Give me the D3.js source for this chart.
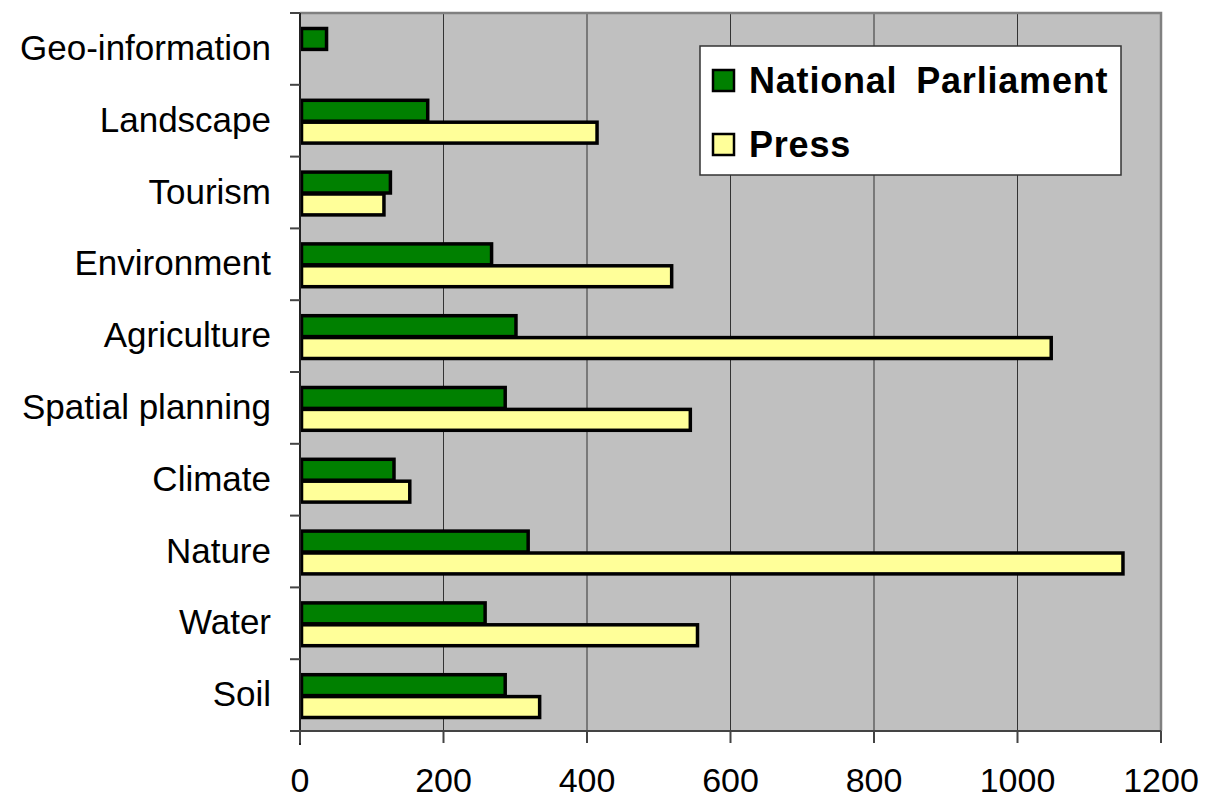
<!DOCTYPE html>
<html lang="en">
<head>
<meta charset="utf-8">
<title>topics</title>
<script src="https://d3js.org/d3.v7.min.js"></script>
<style>
  body { margin: 0; background: #fff; }
  text { font-family: Arial, "Liberation Sans", sans-serif; }
</style>
</head>
<body>
<svg width="1205" height="799"></svg>
<script>
// data, top to bottom
var topics = ["Geo-information", "Landscape", "Tourism", "Environment", "Agriculture",
              "Spatial planning", "Climate", "Nature", "Water", "Soil"];
var parliament = [37, 178, 126, 267, 301, 286, 131, 318, 258, 286];
var press = [0, 414, 117, 518, 1047, 544, 153, 1147, 554, 334];
var seriesNames = ["National Parliament", "Press"];
var seriesColors = ["#008000", "#ffff99"];
var xTicks = [0, 200, 400, 600, 800, 1000, 1200];

var svg = d3.select("svg");
var pLeft = 300, pRight = 1161, pTop = 13, pBottom = 731;

var x = d3.scaleLinear().domain([0, 1200]).range([pLeft, pRight]);
var y = d3.scaleBand().domain(topics).range([pTop, pBottom]).paddingInner(0.39).paddingOuter(0.195);
var sub = d3.scaleBand().domain([0, 1]).range([0, y.bandwidth()]);

// plot background
svg.append("rect").attr("x", pLeft).attr("y", pTop)
  .attr("width", pRight - pLeft).attr("height", pBottom - pTop)
  .attr("fill", "#c0c0c0");

// vertical grid
svg.append("g").selectAll("line")
  .data(xTicks.slice(1))
  .enter().append("line")
  .attr("x1", d => x(d)).attr("x2", d => x(d))
  .attr("y1", pTop).attr("y2", pBottom)
  .attr("stroke", "#333").attr("stroke-width", 1);

// frame top/right
svg.append("path")
  .attr("d", `M${pLeft},${pTop}H${pRight}V${pBottom}`)
  .attr("fill", "none").attr("stroke", "#808080").attr("stroke-width", 2.5);

// bars
var rows = topics.map((t, i) => ({t: t, v: [parliament[i], press[i]]}));
var grp = svg.append("g").selectAll("g")
  .data(rows).enter().append("g")
  .attr("transform", d => `translate(0,${y(d.t)})`);
grp.selectAll("rect")
  .data(d => d.v.map((v, k) => ({v: v, k: k})).filter(e => e.v > 0))
  .enter().append("rect")
  .attr("x", x(0) + 1.5)
  .attr("y", d => sub(d.k) + 1.5)
  .attr("width", d => x(d.v) - x(0) - 1.5)
  .attr("height", sub.bandwidth() - 1)
  .attr("fill", d => seriesColors[d.k])
  .attr("stroke", "#000").attr("stroke-width", 3.5);

// left axis
svg.append("line").attr("x1", pLeft).attr("x2", pLeft).attr("y1", pTop).attr("y2", pBottom + 14)
  .attr("stroke", "#222").attr("stroke-width", 2);
var edges = d3.range(topics.length + 1).map(i => pTop + i * (pBottom - pTop) / topics.length);
svg.append("g").selectAll("line").data(edges).enter().append("line")
  .attr("x1", pLeft - 10).attr("x2", pLeft)
  .attr("y1", d => d).attr("y2", d => d)
  .attr("stroke", "#444").attr("stroke-width", 2);
svg.append("g").selectAll("text").data(topics).enter().append("text")
  .attr("x", 271).attr("y", d => y(d) + y.bandwidth() / 2 + 11)
  .attr("text-anchor", "end")
  .attr("font-size", 35)
  .text(d => d);

// bottom axis
svg.append("line").attr("x1", pLeft).attr("x2", pRight).attr("y1", pBottom).attr("y2", pBottom)
  .attr("stroke", "#444").attr("stroke-width", 2);
svg.append("g").selectAll("line").data(xTicks).enter().append("line")
  .attr("x1", d => x(d)).attr("x2", d => x(d))
  .attr("y1", pBottom).attr("y2", pBottom + 12)
  .attr("stroke", "#444").attr("stroke-width", 2);
svg.append("g").selectAll("text").data(xTicks).enter().append("text")
  .attr("x", d => x(d)).attr("y", 792)
  .attr("text-anchor", "middle")
  .attr("font-size", 34)
  .text(d => d);

// legend
var lg = svg.append("g");
lg.append("rect").attr("x", 700).attr("y", 46).attr("width", 421).attr("height", 129)
  .attr("fill", "#fff").attr("stroke", "#333").attr("stroke-width", 1.5);
var items = lg.selectAll("g").data(seriesNames).enter().append("g")
  .attr("transform", (d, i) => `translate(0,${i * 64})`);
items.append("rect").attr("x", 713).attr("y", 70).attr("width", 21).attr("height", 21)
  .attr("fill", (d, i) => seriesColors[i]).attr("stroke", "#000").attr("stroke-width", 2.5);
items.append("text").attr("x", 749).attr("y", 93)
  .attr("font-size", 36).attr("font-weight", "bold")
  .attr("letter-spacing", 0.8).attr("word-spacing", 8)
  .text(d => d);
</script>
</body>
</html>
